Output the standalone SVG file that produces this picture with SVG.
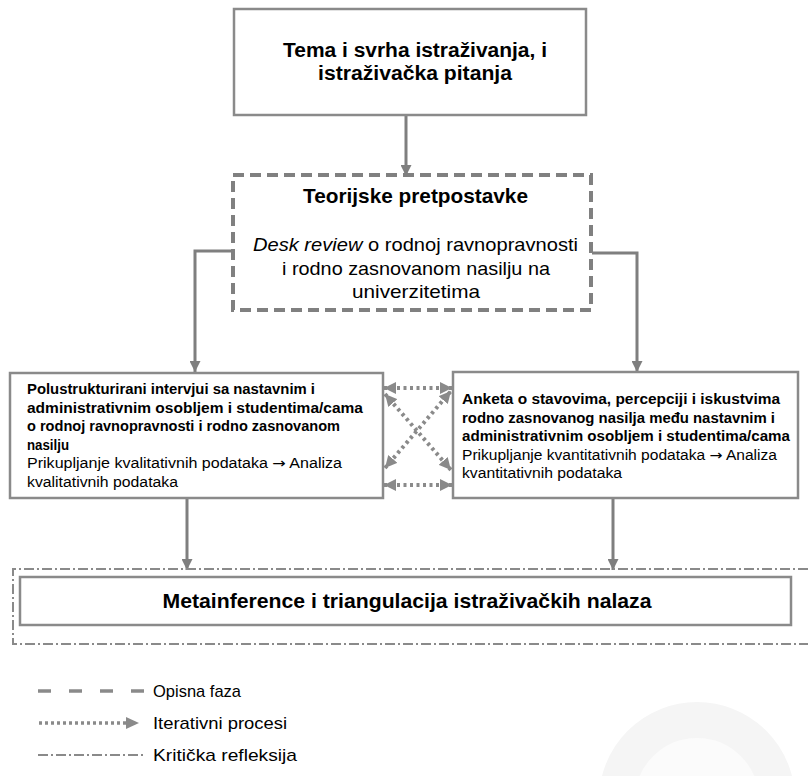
<svg xmlns="http://www.w3.org/2000/svg" width="808" height="776" viewBox="0 0 808 776">
<defs>
<style>
.t{font-family:"Liberation Sans",Arial,sans-serif;fill:#000}
.b{font-weight:bold}
.ar{font-family:"DejaVu Sans",sans-serif}
.box{fill:#fff;stroke:#8a8a8a;stroke-width:2.5}
.ln{fill:none;stroke:#7f7f7f;stroke-width:3}
.dot{fill:none;stroke:#8a8a8a;stroke-width:4;stroke-dasharray:3 3.5}
.dd{fill:none;stroke:#8a8a8a;stroke-width:2;stroke-dasharray:10 3 2 3}
</style>
<marker id="ah" viewBox="0 0 10 10" refX="10" refY="5" markerWidth="11" markerHeight="11" markerUnits="userSpaceOnUse" orient="auto-start-reverse"><path d="M0,0 L10,5 L0,10 z" fill="#7f7f7f"/></marker>
<marker id="ahd" viewBox="0 0 10 10" refX="10" refY="5" markerWidth="12" markerHeight="12" markerUnits="userSpaceOnUse" orient="auto-start-reverse"><path d="M0,0 L10,5 L0,10 z" fill="#8a8a8a"/></marker>
</defs>
<rect width="808" height="776" fill="#fff"/>
<g id="watermark">
<circle cx="697" cy="800" r="80" fill="#fbfbfb" stroke="#f5f5f5" stroke-width="36"/>
</g>
<g id="connectors">
<line class="ln" x1="406" y1="115" x2="406" y2="176" marker-end="url(#ah)"/>
<polyline class="ln" points="233,251 195,251 195,372" marker-end="url(#ah)"/>
<polyline class="ln" points="592,253 637,253 637,372" marker-end="url(#ah)"/>
<line class="ln" x1="187" y1="498" x2="187" y2="570" marker-end="url(#ah)"/>
<line class="ln" x1="613" y1="498" x2="613" y2="570" marker-end="url(#ah)"/>
<line class="dot" x1="384" y1="388" x2="452" y2="388" marker-start="url(#ahd)" marker-end="url(#ahd)"/>
<line class="dot" x1="384" y1="485" x2="452" y2="485" marker-start="url(#ahd)" marker-end="url(#ahd)"/>
<line class="dot" x1="385" y1="394" x2="451" y2="470" marker-start="url(#ahd)" marker-end="url(#ahd)"/>
<line class="dot" x1="385" y1="468" x2="451" y2="391" marker-start="url(#ahd)" marker-end="url(#ahd)"/>
</g>
<g id="n1">
<rect class="box" x="234" y="9" width="352" height="106"/>
<text class="t b" x="415" y="57" font-size="20" text-anchor="middle" textLength="264" lengthAdjust="spacingAndGlyphs">Tema i svrha istraživanja, i</text>
<text class="t b" x="415" y="80" font-size="20" text-anchor="middle" textLength="194" lengthAdjust="spacingAndGlyphs">istraživačka pitanja</text>
</g>
<g id="n2">
<rect x="233" y="175" width="358" height="135" fill="#fff" stroke="#808080" stroke-width="4" stroke-dasharray="11 6"/>
<text class="t b" x="415.5" y="203" font-size="21" text-anchor="middle" textLength="225" lengthAdjust="spacingAndGlyphs">Teorijske pretpostavke</text>
<text class="t" x="415.5" y="251" font-size="19" text-anchor="middle" textLength="325" lengthAdjust="spacingAndGlyphs"><tspan font-style="italic">Desk review</tspan> o rodnoj ravnopravnosti</text>
<text class="t" x="416" y="275" font-size="19" text-anchor="middle" textLength="268" lengthAdjust="spacingAndGlyphs">i rodno zasnovanom nasilju na</text>
<text class="t" x="416" y="298" font-size="19" text-anchor="middle" textLength="128" lengthAdjust="spacingAndGlyphs">univerzitetima</text>
</g>
<g id="n3">
<rect class="box" x="10" y="373" width="373" height="125" stroke-width="2"/>
<text class="t b" x="27" y="394" font-size="14" textLength="288" lengthAdjust="spacingAndGlyphs">Polustrukturirani intervjui sa nastavnim i</text>
<text class="t b" x="27" y="412.5" font-size="14" textLength="336" lengthAdjust="spacingAndGlyphs">administrativnim osobljem i studentima/cama</text>
<text class="t b" x="27" y="431" font-size="14" textLength="313" lengthAdjust="spacingAndGlyphs">o rodnoj ravnopravnosti i rodno zasnovanom</text>
<text class="t b" x="27" y="449.5" font-size="14" textLength="42" lengthAdjust="spacingAndGlyphs">nasilju</text>
<text class="t" x="27" y="468" font-size="14" textLength="315" lengthAdjust="spacingAndGlyphs">Prikupljanje kvalitativnih podataka  <tspan class="ar">→</tspan> Analiza</text>
<text class="t" x="27" y="486.5" font-size="14" textLength="151" lengthAdjust="spacingAndGlyphs">kvalitativnih podataka</text>
</g>
<g id="n4">
<rect class="box" x="453" y="372" width="345" height="126" stroke-width="2"/>
<text class="t b" x="462" y="404" font-size="14" textLength="318" lengthAdjust="spacingAndGlyphs">Anketa o stavovima, percepciji i iskustvima</text>
<text class="t b" x="462" y="422.5" font-size="14" textLength="313" lengthAdjust="spacingAndGlyphs">rodno zasnovanog nasilja među nastavnim i</text>
<text class="t b" x="462" y="441" font-size="14" textLength="328" lengthAdjust="spacingAndGlyphs">administrativnim osobljem i studentima/cama</text>
<text class="t" x="462" y="459.5" font-size="14" textLength="315" lengthAdjust="spacingAndGlyphs">Prikupljanje kvantitativnih podataka  <tspan class="ar">→</tspan> Analiza</text>
<text class="t" x="462" y="478" font-size="14" textLength="160" lengthAdjust="spacingAndGlyphs">kvantitativnih podataka</text>
</g>
<g id="n5">
<path class="dd" d="M808,569 H13 V644 H808"/>
<rect class="box" x="20" y="577" width="771" height="48" stroke-width="3"/>
<text class="t b" x="407" y="608" font-size="21" text-anchor="middle" textLength="489" lengthAdjust="spacingAndGlyphs">Metainference i triangulacija istraživačkih nalaza</text>
</g>
<g id="legend">
<line x1="38" y1="691" x2="145" y2="691" stroke="#8a8a8a" stroke-width="3.5" stroke-dasharray="13 18"/>
<text class="t" x="153" y="697" font-size="17" textLength="88" lengthAdjust="spacingAndGlyphs">Opisna faza</text>
<line x1="39" y1="723" x2="126" y2="723" stroke="#8a8a8a" stroke-width="3.5" stroke-dasharray="3 3"/>
<path d="M126,717 L139,723 L126,729 z" fill="#8a8a8a"/>
<text class="t" x="153" y="729" font-size="17" textLength="134" lengthAdjust="spacingAndGlyphs">Iterativni procesi</text>
<line x1="38" y1="755" x2="146" y2="755" stroke="#8a8a8a" stroke-width="2" stroke-dasharray="10 3 2 3"/>
<text class="t" x="153" y="761" font-size="17" textLength="144" lengthAdjust="spacingAndGlyphs">Kritička refleksija</text>
</g>
</svg>
